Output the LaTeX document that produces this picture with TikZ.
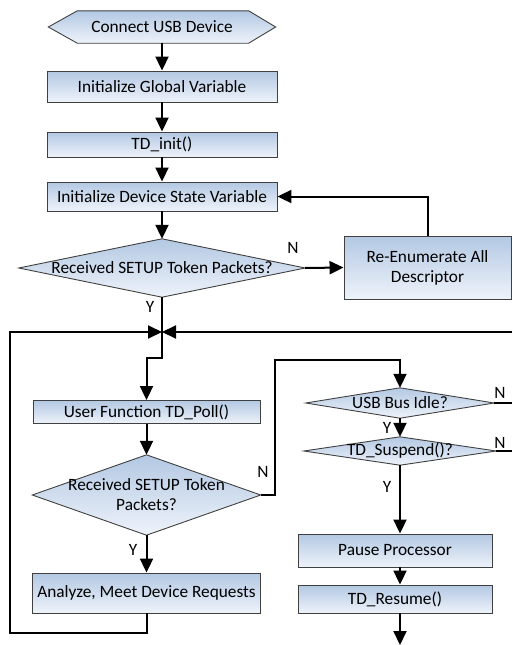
\documentclass[tikz,border=0pt]{standalone}
\usepackage{fontspec}
\setmainfont{Carlito}
\usetikzlibrary{arrows.meta,calc,backgrounds}
\definecolor{ftop}{HTML}{B3C8E3}
\definecolor{fbot}{HTML}{EEF3FA}
\definecolor{bord}{HTML}{404040}
\begin{document}
\begin{tikzpicture}[x=1pt,y=-1pt,
  font=\fontsize{17.3}{20}\selectfont,
  box/.style={draw=bord,line width=0.9pt,top color=ftop,bottom color=fbot,inner sep=0pt,align=center},
  shp/.style={inner sep=0pt,align=center},
  sfill/.style={draw=bord,line width=0.9pt,top color=ftop,bottom color=fbot},
  conn/.style={line width=2pt},
  arr/.style={conn,-{Triangle[length=14pt,width=13pt]}},
  lbl/.style={inner sep=0pt}]
\useasboundingbox (0,0) rectangle (512,645);
% nodes
\node[shp,minimum width=227pt,minimum height=32pt] (start) at (162,27) {Connect USB Device};
\node[box,minimum width=230pt,minimum height=31pt] (glob) at (162,86.5) {Initialize Global Variable};
\node[box,minimum width=230pt,minimum height=25pt] (init) at (162,144.5) {TD\_init()};
\node[box,minimum width=230pt,minimum height=29pt] (state) at (162,196.5) {Initialize Device State Variable};
\node[shp,minimum width=286pt,minimum height=58pt] (d1) at (162,268) {Received SETUP Token Packets?};
\node[box,minimum width=167pt,minimum height=63pt] (reen) at (427.5,267.5) {Re-Enumerate All\\Descriptor};
\coordinate (join) at (162,332);
\node[box,minimum width=227pt,minimum height=23pt] (poll) at (146.5,412) {User Function TD\_Poll()};
\node[shp,minimum width=228pt,minimum height=80pt] (d2) at (146.5,495) {Received SETUP Token\\Packets?};
\node[box,minimum width=228pt,minimum height=40pt] (ana) at (146.5,593) {Analyze, Meet Device Requests};
\node[shp,minimum width=188pt,minimum height=30pt] (idle) at (400,403) {USB Bus Idle?};
\node[shp,minimum width=192pt,minimum height=28pt] (susp) at (400,451) {TD\_Suspend()?};
\node[box,minimum width=194pt,minimum height=33pt] (pause) at (395,550.5) {Pause Processor};
\node[box,minimum width=194pt,minimum height=28pt] (resume) at (395,599) {TD\_Resume()};
% shapes behind text
\begin{scope}[on background layer]
\path[sfill] (start.west) -- ($(start.north west)+(29,0)$) -- ($(start.north east)+(-27,0)$) -- (start.east) -- ($(start.south east)+(-27,0)$) -- ($(start.south west)+(29,0)$) -- cycle;
\path[sfill] (d1.north) -- (d1.east) -- (d1.south) -- (d1.west) -- cycle;
\path[sfill] (d2.north) -- (d2.east) -- (d2.south) -- (d2.west) -- cycle;
\path[sfill] (idle.north) -- (idle.east) -- (idle.south) -- (idle.west) -- cycle;
\path[sfill] (susp.north) -- (susp.east) -- (susp.south) -- (susp.west) -- cycle;
\end{scope}
% coordinates
\coordinate (lb) at (10,633);
\coordinate (rin) at (512,332);
\coordinate (nup) at (275,360);
\coordinate (r1) at (512,403);
\coordinate (r2) at (512,451);
\coordinate (endp) at (400,645);
% connectors
\draw[arr] (start.south) -- (glob.north);
\draw[arr] (glob.south) -- (init.north);
\draw[arr] (init.south) -- (state.north);
\draw[arr] (state.south) -- (d1.north);
\draw[arr] (d1.east) -- (reen.west);
\draw[arr] (reen.north) |- (state.east);
\draw[arr] (d1.south) -- (join) -- ($(join)+(0,26)$) -| (poll.north);
\draw[arr] (poll.south) -- (d2.north);
\draw[arr] (d2.south) -- (ana.north);
\draw[arr] (ana.south) |- (lb) |- (join);
\draw[arr] (rin) -- (join);
\draw[arr] (d2.east) -| (nup) -| (idle.north);
\draw[conn] (idle.east) -- (r1);
\draw[conn] (susp.east) -- (r2);
\draw[arr] (idle.south) -- (susp.north);
\draw[arr] (susp.south) -- (susp.south |- pause.north);
\draw[arr] (pause.south -| susp) -- (resume.north -| susp);
\draw[arr] (resume.south -| susp) -- (endp);
% labels
\node[lbl] (n1) at (293,248) {N};
\node[lbl] (y1) at (150,307) {Y};
\node[lbl] (n2) at (263,472) {N};
\node[lbl] (y2) at (133,550) {Y};
\node[lbl] (n3) at (500,393) {N};
\node[lbl] (y3) at (387,428) {Y};
\node[lbl] (n4) at (500,443) {N};
\node[lbl] (y4) at (387,487) {Y};
\end{tikzpicture}
\end{document}
